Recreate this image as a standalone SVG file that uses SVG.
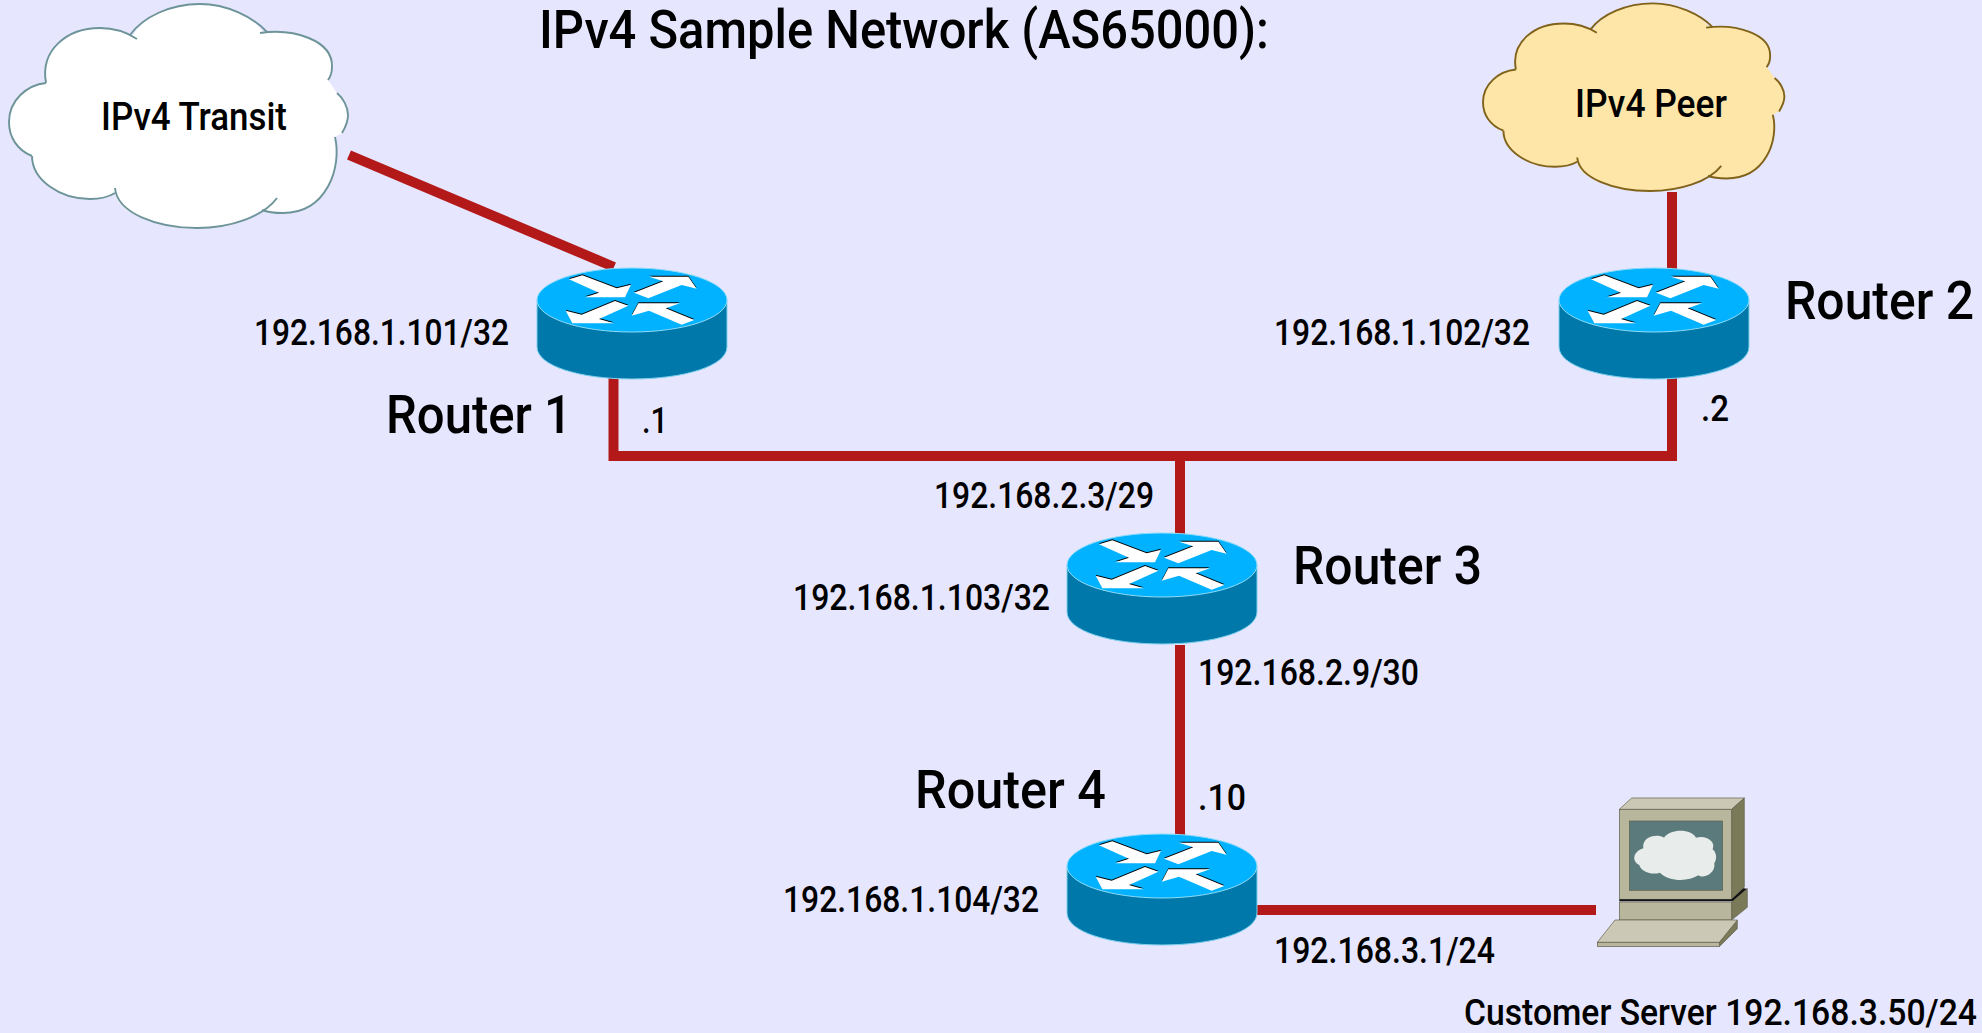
<svg xmlns="http://www.w3.org/2000/svg" xmlns:xlink="http://www.w3.org/1999/xlink" width="1982" height="1033" viewBox="0 0 1982 1033">
<style>
text{font-family:"Roboto","Liberation Sans",sans-serif;font-weight:500;fill:#000}
.lbl{font-size:37px}
.name{font-size:53px}
.cloudlbl{font-size:38px}
.title{font-size:53px}
.link{stroke:#b31919;stroke-width:10;fill:none}
.cl-o{stroke-width:1.9;fill:none;stroke-linecap:butt}
.a{fill:#fff}
.s{fill:#000}
.sv{stroke:#5e5e4a;stroke-width:2}
</style>
<defs>
<g id="arrows">
<polygon id="a1" points="207,118 247,106 350,145 393,134 375,172 255,172 297,158"/>
<polygon id="a2" points="402,158 490,124 447,110 565,110 590,146 545,135 445,175"/>
<polygon id="a3" points="385,197 345,183 245,224 197,212 217,250 342,250 297,237"/>
<polygon id="a4" points="395,227 415,190 540,190 497,205 583,240 545,254 447,212"/>
</g>
<g id="router">
<path d="M-95,0 V47 C-95,66 -52,79 0,79 C52,79 95,66 95,47 V0 Z" fill="#0079aa" stroke="#7fd0ee" stroke-width="1"/>
<ellipse cx="0" cy="0" rx="95" ry="32" fill="#00b2ff" stroke="#8fdcf8" stroke-width="1"/>
<g transform="scale(.3333) translate(-396,-180)">
<use href="#arrows" class="s" transform="translate(0,-3)"/>
<use href="#arrows" class="a"/>
</g>
</g>
<path id="cloud-fill" d="M46,83 C40,50 67,28 100,28 C117,28 128,33 132,37 C143,17 170,4 200,4 C227,4 253,17 263,32 C293,28 333,40 332,67 C332,72 331,76 328,80 L337,93 C343,98 348,107 348,115 C348,122 345,128 342,133 L335,137 C342,167 327,213 283,213 C273,213 267,212 262,210 C240,222 225,228 197,228 C157,228 117,213 115,193 C107,198 98,199 90,199 C60,199 32,180 32,156 C17,150 9,137 9,122 C9,100 27,85 46,83 Z"/>
<g id="cloud-line" class="cl-o">
<path vector-effect="non-scaling-stroke" d="M46,83 C40,50 67,28 100,28 C117,28 128,33 137,39"/>
<path vector-effect="non-scaling-stroke" d="M130,35 C143,17 170,4 200,4 C227,4 253,17 267,32"/>
<path vector-effect="non-scaling-stroke" d="M260,33 C293,28 333,40 332,67 C332,72 331,76 328,80"/>
<path vector-effect="non-scaling-stroke" d="M337,93 C343,98 348,107 348,115 C348,122 345,128 342,133"/>
<path vector-effect="non-scaling-stroke" d="M335,137 C342,167 327,213 283,213 C273,213 267,212 262,210"/>
<path vector-effect="non-scaling-stroke" d="M277,198 C263,217 230,228 197,228 C157,228 117,213 115,188"/>
<path vector-effect="non-scaling-stroke" d="M115,193 C107,198 98,199 90,199 C60,199 32,180 32,156"/>
<path vector-effect="non-scaling-stroke" d="M32,156 C17,150 9,137 9,122 C9,100 27,85 46,83"/>
</g>
</defs>
<rect width="1982" height="1033" fill="#e6e6fe"/>
<g id="connectors">
<line class="link" x1="349" y1="155" x2="614" y2="267"/>
<path class="link" d="M613.500,378 V456 H1677 M1672,378 V456 M1672,192 V270 M1180,456 V535 M1180,645 V836 M1257,910 H1596"/>
</g>
<g id="transit">
<use href="#cloud-fill" fill="#fff"/>
<use href="#cloud-line" stroke="#6d9499"/>
<text class="cloudlbl" x="101" y="130" textLength="186" lengthAdjust="spacingAndGlyphs">IPv4 Transit</text>
</g>
<g id="peer">
<g transform="translate(1475,0) scale(.889,.838)">
<use href="#cloud-fill" fill="#fde6a8"/>
<use href="#cloud-line" stroke="#80621a"/>
</g>
<text class="cloudlbl" x="1575" y="117" textLength="152" lengthAdjust="spacingAndGlyphs">IPv4 Peer</text>
</g>
<g id="router1"><use href="#router" x="632" y="300"/><text class="lbl" x="254" y="345" textLength="255" lengthAdjust="spacingAndGlyphs">192.168.1.101/32</text><text class="name" x="386" y="433" textLength="186" lengthAdjust="spacingAndGlyphs">Router 1</text><text class="lbl" x="642" y="433" textLength="26" lengthAdjust="spacingAndGlyphs">.1</text></g>
<g id="router2"><use href="#router" x="1654" y="300"/><text class="lbl" x="1274" y="345" textLength="256" lengthAdjust="spacingAndGlyphs">192.168.1.102/32</text><text class="name" transform="translate(1785,319) scale(.9,1)" textLength="210" lengthAdjust="spacingAndGlyphs">Router 2</text><text class="lbl" x="1701" y="421" textLength="28" lengthAdjust="spacingAndGlyphs">.2</text></g>
<g id="router3"><use href="#router" x="1162" y="565"/><text class="lbl" x="934" y="508" textLength="220" lengthAdjust="spacingAndGlyphs">192.168.2.3/29</text><text class="lbl" x="793" y="610" textLength="257" lengthAdjust="spacingAndGlyphs">192.168.1.103/32</text><text class="name" x="1293" y="584" textLength="189" lengthAdjust="spacingAndGlyphs">Router 3</text><text class="lbl" x="1198" y="685" textLength="221" lengthAdjust="spacingAndGlyphs">192.168.2.9/30</text></g>
<g id="router4"><use href="#router" x="1162" y="866"/><text class="name" x="915" y="808" textLength="191" lengthAdjust="spacingAndGlyphs">Router 4</text><text class="lbl" x="1198" y="810" textLength="48" lengthAdjust="spacingAndGlyphs">.10</text><text class="lbl" x="783" y="912" textLength="256" lengthAdjust="spacingAndGlyphs">192.168.1.104/32</text><text class="lbl" x="1274" y="963" textLength="221" lengthAdjust="spacingAndGlyphs">192.168.3.1/24</text></g>
<g id="server">
<g transform="translate(1560,770) scale(.3333)">
<polygon class="sv" points="178,118 215,84 553,84 515,118" fill="#cbc9b5"/>
<polygon class="sv" points="515,118 553,84 553,352 515,388" fill="#7a7a58"/>
<rect class="sv" x="178" y="118" width="337" height="270" fill="#b8b69c"/>
<rect class="sv" x="208" y="153" width="280" height="208" fill="#5a7a7c"/>
<path d="M250,235 C245,200 290,190 312,203 C330,175 395,175 408,203 C440,195 468,215 458,238 C472,250 470,270 463,280 C468,310 430,328 415,316 C380,338 325,333 300,308 C270,318 240,300 238,285 C215,275 218,245 250,235 Z" fill="#e8eceb"/>
<polygon points="515,388 550,355 562,356 520,394 178,394 178,388" fill="#111"/>
<polygon class="sv" points="515,396 562,356 562,412 515,450" fill="#7a7a58"/>
<rect class="sv" x="178" y="396" width="337" height="54" fill="#b8b69c"/>
<polygon class="sv" points="478,517 532,450 532,476 478,530" fill="#7a7a58"/>
<polygon class="sv" points="112,517 165,450 532,450 478,517" fill="#cbc9b5"/>
<rect class="sv" x="112" y="517" width="366" height="13" fill="#b8b69c"/>
</g>
<text class="lbl" transform="translate(1464,1025) scale(.9,1)" textLength="570" lengthAdjust="spacingAndGlyphs">Customer Server 192.168.3.50/24</text>
</g>
<text id="title" class="title" x="539" y="48" textLength="730" lengthAdjust="spacingAndGlyphs">IPv4 Sample Network (AS65000):</text>
</svg>
